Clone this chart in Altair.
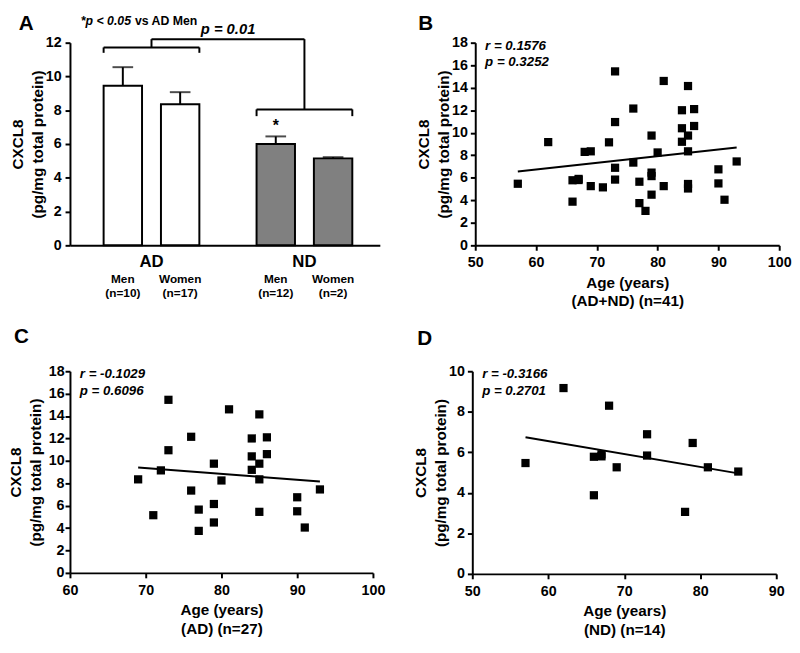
import altair as alt
import pandas as pd

FONT = "Liberation Sans"

# ---------------- Panel A data ----------------
bar_group = ["AD", "AD", "ND", "ND"]
bar_sex = ["Men", "Women", "Men", "Women"]
bar_n = ["(n=10)", "(n=17)", "(n=12)", "(n=2)"]
bar_mean = [9.45, 8.35, 6.0, 5.15]
bar_sem = [1.1, 0.72, 0.45, 0.07]

bracket_group = ["AD", "ND"]
bracket_top = [11.72, 8.05]
bracket_tick = [11.40, 7.65]
bracket_link = 12.21

# ---------------- Scatter data ----------------
ad_age = [69, 71, 72, 73, 73, 76, 76, 77, 77, 79, 79, 79, 80, 81, 84, 84, 84,
          85, 85, 85, 85, 86, 86, 90, 90, 91, 93]
ad_cxcl8 = [8.35, 5.15, 9.15, 15.45, 10.95, 12.15, 7.35, 5.65, 3.75, 9.75, 6.15,
            4.5, 8.25, 14.6, 12.0, 10.4, 9.2, 14.15, 9.75, 8.35, 5.45, 12.1, 10.6,
            6.75, 5.5, 4.05, 7.45]
nd_age = [57, 62, 66, 66, 67, 67, 68, 69, 73, 73, 78, 79, 81, 85]
nd_cxcl8 = [5.47, 9.17, 5.78, 3.88, 5.9, 5.8, 8.3, 5.26, 6.89, 5.84, 3.06, 6.46,
            5.26, 5.05]

Y_TITLE = ["CXCL8", "(pg/mg total protein)"]


def txt(text, x, y, size=14, style="normal", weight="bold", align="left",
        baseline="middle"):
    return alt.Chart(pd.DataFrame({"t": [text]})).mark_text(
        align=align, baseline=baseline, font=FONT, fontSize=size,
        fontStyle=style, fontWeight=weight, color="black"
    ).encode(text="t:N", x=alt.value(x), y=alt.value(y))


def y_axis(values, title_pad=3, label_pad=3):
    return alt.Axis(values=values, tickCount=len(values) + 2, title=Y_TITLE,
                    titlePadding=title_pad, labelPadding=label_pad,
                    titleLineHeight=20, labelOverlap=False, labelBound=False)


# ---------------- Panel A ----------------
WA, HA = 315, 206
dfA = pd.DataFrame({"group": bar_group, "sex": bar_sex, "n": bar_n,
                    "mean": bar_mean,
                    "upper": [m + s for m, s in zip(bar_mean, bar_sem)]})
xA = alt.X("group:N", sort=["AD", "ND"],
           scale=alt.Scale(paddingInner=0.374, paddingOuter=0.2, align=0.55),
           axis=alt.Axis(title=None, labelAngle=0, ticks=False, labelFontSize=17,
                         labelPadding=9))
xoA = alt.XOffset("sex:N", sort=["Men", "Women"],
                  scale=alt.Scale(paddingInner=0.33, paddingOuter=0))
yA = alt.Y("mean:Q", scale=alt.Scale(domain=[0, 12], nice=False),
           axis=y_axis([0, 2, 4, 6, 8, 10, 12], title_pad=0, label_pad=4))

baseA = alt.Chart(dfA)
bars = baseA.mark_bar(stroke="black", strokeWidth=2).encode(
    x=xA, xOffset=xoA, y=yA,
    fill=alt.Fill("group:N", scale=alt.Scale(domain=["AD", "ND"],
                                             range=["white", "#808080"]),
                  legend=None))
err = baseA.mark_rule(color="black", strokeWidth=2).encode(
    x=alt.X("group:N", title=None), xOffset="sex:N", y="mean:Q", y2="upper:Q")
cap = baseA.mark_tick(color="black", size=21, thickness=2).encode(
    x=alt.X("group:N", title=None), xOffset="sex:N", y="upper:Q")
sex_lbl = baseA.mark_text(font=FONT, fontSize=12, fontWeight="bold",
                          baseline="middle", color="black").encode(
    x=alt.X("group:N", title=None), xOffset="sex:N", text="sex:N",
    y=alt.value(HA + 34))
n_lbl = baseA.mark_text(font=FONT, fontSize=12, fontWeight="bold",
                        baseline="middle", color="black").encode(
    x=alt.X("group:N", title=None), xOffset="sex:N", text="n:N",
    y=alt.value(HA + 49))
star = alt.Chart(pd.DataFrame({"group": ["ND"], "sex": ["Men"],
                               "y": [bar_mean[2] + bar_sem[2]],
                               "t": ["*"]})).mark_text(
    font=FONT, fontSize=16, fontWeight="bold", baseline="bottom", dy=-3,
    color="black").encode(x=alt.X("group:N", title=None), xOffset="sex:N",
                          y="y:Q", text="t:N")

dfB = pd.DataFrame({"group": bracket_group, "top": bracket_top,
                    "tick": bracket_tick, "link": [bracket_link] * 2})
baseBr = alt.Chart(dfB)
br_h = baseBr.mark_rule(color="black", strokeWidth=2).encode(
    x=alt.X("group:N", bandPosition=0, title=None),
    x2=alt.X2("group", bandPosition=1), y="top:Q")
br_l = baseBr.mark_rule(color="black", strokeWidth=2).encode(
    x=alt.X("group:N", bandPosition=0, title=None), y="top:Q", y2="tick:Q")
br_r = baseBr.mark_rule(color="black", strokeWidth=2).encode(
    x=alt.X("group:N", bandPosition=1, title=None), y="top:Q", y2="tick:Q")
br_v = baseBr.mark_rule(color="black", strokeWidth=2).encode(
    x=alt.X("group:N", bandPosition=0.5, title=None), y="top:Q", y2="link:Q")
dfL = pd.DataFrame({"group": ["AD"], "group2": ["ND"], "link": [bracket_link]})
br_link = alt.Chart(dfL).mark_rule(color="black", strokeWidth=2).encode(
    x=alt.X("group:N", bandPosition=0.5, title=None),
    x2=alt.X2("group2", bandPosition=0.5), y="link:Q")

panelA = alt.layer(
    bars, err, cap, sex_lbl, n_lbl, star, br_h, br_l, br_r, br_v, br_link,
    txt("*p < 0.05", 11, -22, size=12.5, style="italic"),
    txt("vs AD Men", 66, -22, size=12.5),
    txt("p = 0.01", 133, -14, size=15, style="italic"),
    txt("A", -52, -13, size=21, baseline="alphabetic"),
).properties(width=WA, height=HA)


# ---------------- Scatter panels ----------------
def scatter(ages, vals, xdom, xvals, ydom, yvals, sub, r_txt, p_txt, letter,
            w, h, letter_x, letter_y, title_pad=0, label_pad=3):
    df = pd.DataFrame({"age": ages, "cxcl8": vals})
    base = alt.Chart(df)
    x = alt.X("age:Q", scale=alt.Scale(domain=xdom, nice=False, zero=False),
              axis=alt.Axis(values=xvals, tickCount=len(xvals) + 2,
                            title=["Age (years)", sub],
                            titlePadding=6, titleLineHeight=19, labelPadding=6,
                            labelFlush=False, labelOverlap=False,
                            labelBound=False))
    y = alt.Y("cxcl8:Q", scale=alt.Scale(domain=ydom, nice=False),
              axis=y_axis(yvals, title_pad=title_pad, label_pad=label_pad))
    pts = base.mark_square(size=70, color="black", opacity=1).encode(x=x, y=y)
    line = base.transform_regression("age", "cxcl8").mark_line(
        color="black", strokeWidth=2).encode(x="age:Q", y="cxcl8:Q")
    return alt.layer(
        line, pts,
        txt(r_txt, 10, 3, size=13.5, style="italic"),
        txt(p_txt, 10, 20, size=13.5, style="italic"),
        txt(letter, letter_x, letter_y, size=21, baseline="alphabetic"),
    ).properties(width=w, height=h)


panelB = scatter(ad_age + nd_age, ad_cxcl8 + nd_cxcl8, [50, 100],
                 [50, 60, 70, 80, 90, 100], [0, 18], list(range(0, 20, 2)),
                 "(AD+ND) (n=41)", "r = 0.1576", "p = 0.3252", "B", 309, 206,
                 -58, -13)
panelC = scatter(ad_age, ad_cxcl8, [60, 100], [60, 70, 80, 90, 100], [0, 18],
                 list(range(0, 20, 2)), "(AD) (n=27)", "r = -0.1029",
                 "p = 0.6096", "C", 308, 205, -57, -29, title_pad=5,
                 label_pad=1)
panelD = scatter(nd_age, nd_cxcl8, [50, 90], [50, 60, 70, 80, 90], [0, 10],
                 list(range(0, 12, 2)), "(ND) (n=14)", "r = -0.3166",
                 "p = 0.2701", "D", 309, 206, -56, -27)

row1 = alt.hconcat(panelA, panelB, spacing=37)
row2 = alt.hconcat(panelC, panelD, spacing=28)

chart = alt.concat(row1, row2, columns=1, align="none", spacing=17).properties(
    padding={"left": 0, "top": 0, "right": 0, "bottom": 0}
).configure_view(stroke=None).configure_axis(
    grid=False, domainColor="black", domainWidth=2, tickColor="black",
    tickWidth=2, tickSize=5, labelColor="black", labelFont=FONT,
    labelFontSize=14.5, labelFontWeight="bold", titleColor="black",
    titleFont=FONT, titleFontSize=15.5, titleFontWeight="bold"
).configure_text(font=FONT)

chart.save("out.html", embed_options={"renderer": "svg", "actions": False})
